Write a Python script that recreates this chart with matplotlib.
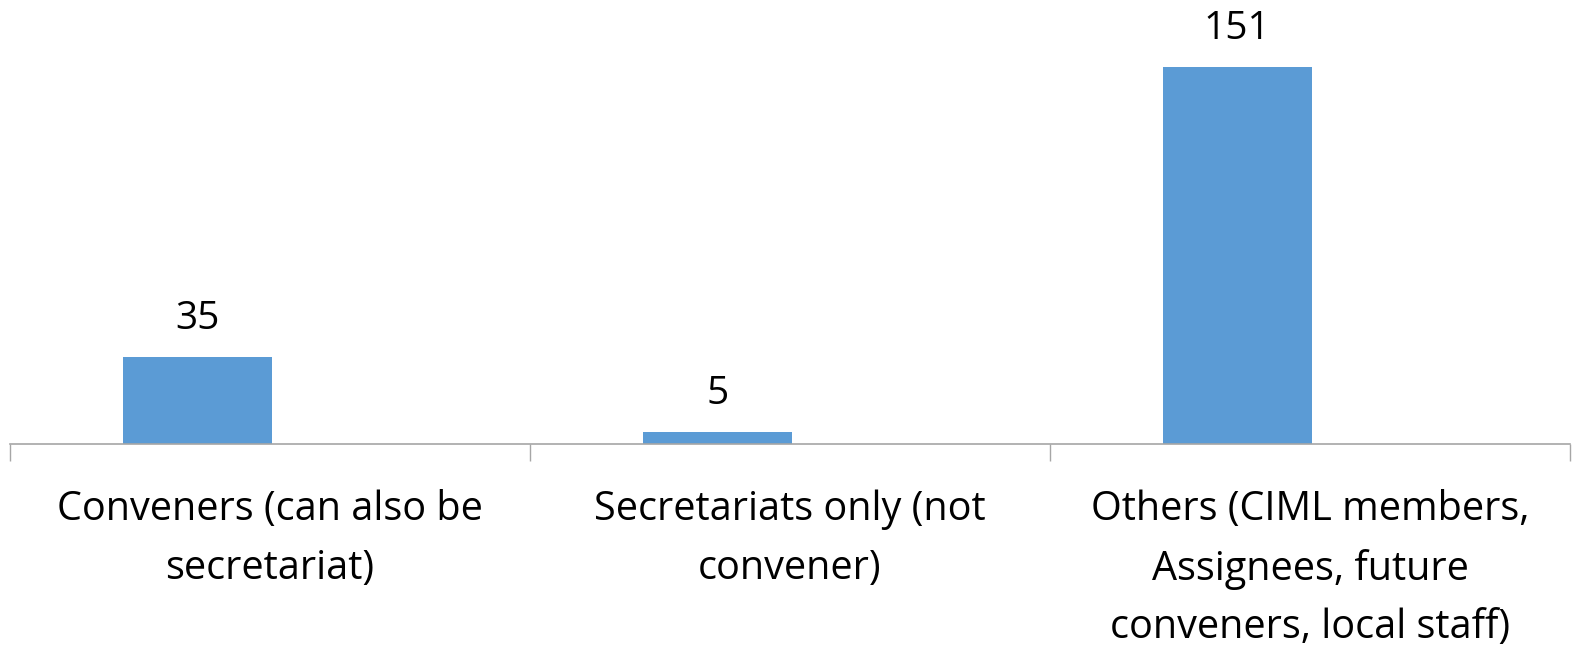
import numpy as np
import matplotlib.pyplot as plt

# Répartition des participants par rôle
categories = ["Conveners (can also be\nsecretariat)",
              "Secretariats only (not\nconvener)",
              "Others (CIML members,\nAssignees, future\nconveners, local staff)"]
valeurs = [35, 5, 151]

plt.rcParams['font.family'] = ['Open Sans', 'DejaVu Sans']

fig = plt.figure(figsize=(15.73, 6.45), dpi=100)
ax = fig.add_axes([10 / 1573, (645 - 444) / 645, 1560 / 1573, 444 / 645])

x = np.arange(len(valeurs))
barres = ax.bar(x - 0.14, valeurs, width=0.287, color='#5B9BD5')

for xi, v in zip(x, valeurs):
    ax.annotate(str(v), (xi - 0.14, v), xytext=(0, 20), textcoords='offset points',
                ha='center', va='baseline', fontsize=28, color='black')

ax.set_xlim(-0.5, 2.5)
ax.set_ylim(0, 177.8)

# graduations aux limites des catégories, étiquettes au centre
ax.set_xticks(np.arange(-0.5, 3.0, 1.0))
ax.set_xticklabels([])
ax.tick_params(axis='x', which='major', length=12, width=1, color='#A6A6A6')
ax.set_xticks(x, minor=True)
ax.set_xticklabels(categories, minor=True, fontsize=28.5, linespacing=1.59)
ax.tick_params(axis='x', which='minor', length=0, pad=33)

ax.set_yticks([])
for cote in ['top', 'right', 'left']:
    ax.spines[cote].set_visible(False)
ax.spines['bottom'].set_color('#A6A6A6')
ax.spines['bottom'].set_linewidth(1.2)

plt.savefig('out.png', dpi=100)
